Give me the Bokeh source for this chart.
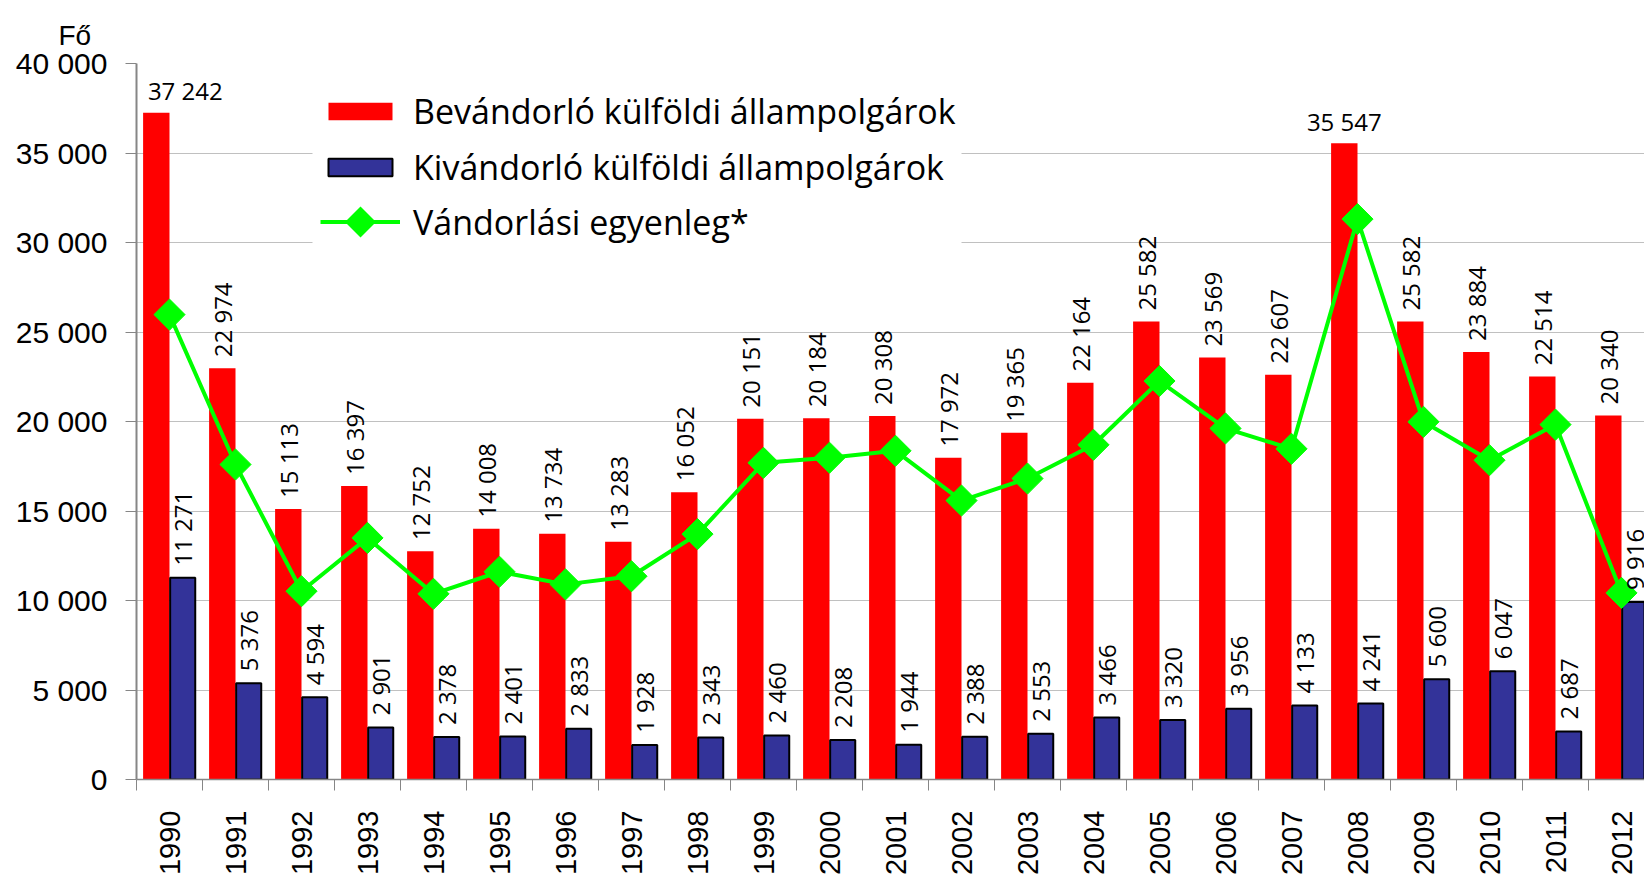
from math import pi
from bokeh.plotting import figure
from bokeh.models import (ColumnDataSource, Range1d, FixedTicker, Legend, LegendItem,
                          BoxAnnotation, PolyAnnotation)
from bokeh.embed import file_html
from bokeh.resources import INLINE
from bokeh.core.properties import value

# ---------------- data ----------------
years = ["1990", "1991", "1992", "1993", "1994", "1995", "1996", "1997", "1998", "1999",
         "2000", "2001", "2002", "2003", "2004", "2005", "2006", "2007", "2008", "2009",
         "2010", "2011", "2012"]
immigrants = [37242, 22974, 15113, 16397, 12752, 14008, 13734, 13283, 16052, 20151,
              20184, 20308, 17972, 19365, 22164, 25582, 23569, 22607, 35547, 25582,
              23884, 22514, 20340]
emigrants = [11271, 5376, 4594, 2901, 2378, 2401, 2833, 1928, 2343, 2460,
             2208, 1944, 2388, 2553, 3466, 3320, 3956, 4133, 4241, 5600,
             6047, 2687, 9916]
net_balance = [25971, 17598, 10519, 13496, 10374, 11607, 10901, 11355, 13709, 17691,
               17976, 18364, 15584, 16812, 18698, 22262, 19613, 18474, 31306, 19982,
               17837, 19827, 10424]
series_names = ["Bevándorló külföldi állampolgárok",
                "Kivándorló külföldi állampolgárok",
                "Vándorlási egyenleg*"]
y_ticks = [0, 5000, 10000, 15000, 20000, 25000, 30000, 35000, 40000]
y_tick_labels = ["0", "5 000", "10 000", "15 000", "20 000", "25 000", "30 000",
                 "35 000", "40 000"]
y_unit = "Fő"

# ---------------- styles ----------------
RED = "#ff0000"
BLUE = "#333399"
GREEN = "#00ff00"
GRID = "#c0c0c0"
AXIS = "#868686"
W, H = 1644, 878
LEFT, TOP, BOTTOM = 136, 63, 97
CAT_PX = 66          # pixel width of one category
FRAME_W = W - LEFT
BAR_SHIFT = 0.2
DATA_FONT = value("Open Sans")


def fmt(v):
    return f"{v:,}".replace(",", " ")


n = len(years)
xs = list(range(n))
src = ColumnDataSource(dict(
    x=xs,
    x_red=[i - BAR_SHIFT for i in xs],
    x_blue=[i + BAR_SHIFT for i in xs],
    imm=immigrants, emi=emigrants, net=net_balance,
    emi_lbl=[fmt(v) for v in emigrants],
))

# red labels: rotated unless the bar is too tall (then horizontal)
tall = [i for i in xs if immigrants[i] > 35000]
rot = [i for i in xs if immigrants[i] <= 35000]
src_red_rot = ColumnDataSource(dict(
    x=[i - BAR_SHIFT for i in rot], y=[immigrants[i] for i in rot],
    t=[fmt(immigrants[i]) for i in rot]))
horizontal_shift = [29, 0]
src_red_hor = ColumnDataSource(dict(
    x=[i - BAR_SHIFT for i in tall], y=[immigrants[i] for i in tall],
    t=[fmt(immigrants[i]) for i in tall], dx=horizontal_shift[:len(tall)]))

p = figure(width=W, height=H, output_backend="svg", toolbar_location=None,
           x_range=Range1d(-0.5, -0.5 + FRAME_W / CAT_PX), y_range=Range1d(0, 40000),
           min_border_left=LEFT, min_border_right=0, min_border_top=TOP,
           min_border_bottom=BOTTOM)
p.outline_line_color = None
p.background_fill_color = "white"
p.border_fill_color = "white"

# unit label as a left-aligned title above the frame
p.title.text = y_unit
p.title.align = "left"
p.title.vertical_align = "top"
p.title.offset = -78
p.title.standoff = 22
p.title.text_font = "Liberation Sans"
p.title.text_font_size = "28px"
p.title.text_font_style = "normal"
p.title.text_color = "black"

# grid
p.xgrid.visible = False
p.ygrid.ticker = FixedTicker(ticks=y_ticks)
p.ygrid.grid_line_color = GRID
p.ygrid.grid_line_width = 1

# bars
red_r = p.vbar(x="x_red", top="imm", width=0.40, bottom=0, source=src,
               fill_color=RED, line_color=None)
blue_r = p.vbar(x="x_blue", top="emi", width=0.38, bottom=0, source=src,
                fill_color=BLUE, line_color="black", line_width=2)

# balance line
line_r = p.line(x="x", y="net", source=src, line_color=GREEN, line_width=4)
mark_r = p.scatter(x="x", y="net", source=src, marker="square", size=22, angle=pi / 4,
                   fill_color=GREEN, line_color=GREEN)

# data labels
p.text(x="x", y="y", text="t", source=src_red_rot, angle=pi / 2, text_align="left",
       text_baseline="middle", y_offset=-11, text_font=DATA_FONT,
       text_font_size="24px", text_color="black")
p.text(x="x", y="y", text="t", source=src_red_hor, text_align="center",
       text_baseline="alphabetic", y_offset=-22, x_offset="dx", text_font=DATA_FONT,
       text_font_size="24px", text_color="black")
p.text(x="x_blue", y="emi", text="emi_lbl", source=src, angle=pi / 2,
       text_align="left", text_baseline="middle", y_offset=-12, text_font=DATA_FONT,
       text_font_size="24px", text_color="black")

# y axis
ya = p.left[0]
ya.ticker = FixedTicker(ticks=y_ticks)
ya.major_label_overrides = {t: l for t, l in zip(y_ticks, y_tick_labels)}
ya.major_tick_out = 11
ya.major_tick_in = 0
ya.major_tick_line_color = AXIS
ya.minor_tick_line_color = None
ya.axis_line_color = AXIS
ya.axis_line_width = 2
ya.major_label_standoff = 18
ya.major_label_text_font = "Liberation Sans"
ya.major_label_text_font_size = "30px"
ya.major_label_text_color = "black"

# x axis
xa = p.below[0]
xa.ticker = FixedTicker(ticks=xs, minor_ticks=[i - 0.5 for i in range(n + 1)])
xa.major_label_overrides = {i: years[i] for i in xs}
xa.major_label_orientation = pi / 2
xa.major_tick_out = 11
xa.major_tick_in = 0
xa.major_tick_line_color = None
xa.minor_tick_out = 11
xa.minor_tick_in = 0
xa.minor_tick_line_color = AXIS
xa.axis_line_color = AXIS
xa.axis_line_width = 1.5
xa.major_label_standoff = 20
xa.major_label_text_font = "Liberation Sans"
xa.major_label_text_font_size = "29px"
xa.major_label_text_color = "black"

# legend background box (frame-relative screen units)
p.add_layout(BoxAnnotation(left=176, right=825, bottom=529, top=699,
                           left_units="screen", right_units="screen",
                           bottom_units="screen", top_units="screen",
                           fill_color="white", fill_alpha=1, line_color=None))

common = dict(orientation="vertical", glyph_width=80, label_standoff=13, padding=0,
              margin=0, label_text_font="Open Sans", label_text_font_size="34px",
              label_text_color="black", border_line_color=None,
              background_fill_alpha=0)
legend_a = Legend(items=[LegendItem(label=series_names[0], renderers=[red_r]),
                         LegendItem(label=series_names[1], renderers=[blue_r])],
                  location=(184, 589), glyph_height=22, label_height=22, spacing=10,
                  **common)
legend_b = Legend(items=[LegendItem(label=series_names[2], renderers=[line_r])],
                  location=(184, 530), glyph_height=55, label_height=22, spacing=0,
                  **common)
p.add_layout(legend_a)
p.add_layout(legend_b)

# diamond marker of the legend's line entry
cx, cy, r = 224, 557.5, 15.5
p.add_layout(PolyAnnotation(xs=[cx - r, cx, cx + r, cx], ys=[cy, cy + r, cy, cy - r],
                            xs_units="screen", ys_units="screen",
                            fill_color=GREEN, fill_alpha=1, line_color=None))

open("out.html", "w").write(file_html(p, INLINE))
